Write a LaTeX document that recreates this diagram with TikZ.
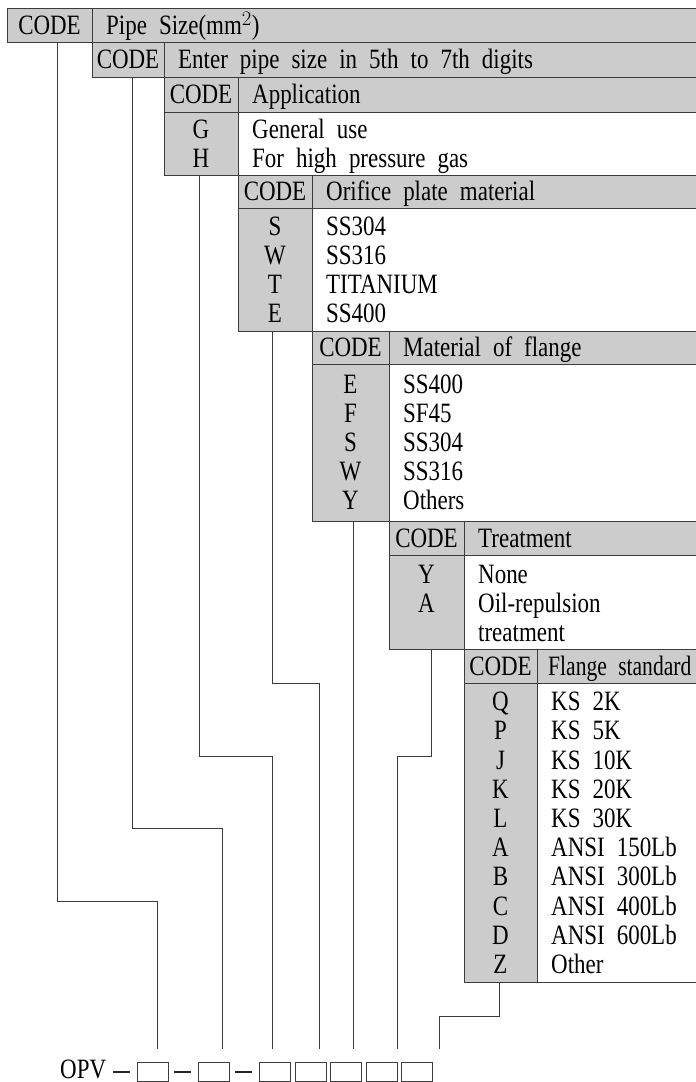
\documentclass[tikz,border=0pt]{standalone}
\usepackage{fontspec}
\setmainfont{Liberation Serif}[FakeStretch=0.82,WordSpace=2.1]
\usepackage{tikz}
\usetikzlibrary{positioning}

\definecolor{cellgray}{HTML}{CCCCCC}
\definecolor{linegray}{HTML}{3C3C3C}

\begin{document}
\begin{tikzpicture}[x=1pt, y=-1pt, font=\fontsize{28}{29}\selectfont,
  frame/.style={draw=linegray, line width=0.9pt},
  wire/.style={draw=linegray, line width=0.9pt},
  codetxt/.style={inner sep=0pt, text height=18.3pt, text depth=0pt, anchor=center},
  itemtxt/.style={inner sep=0pt, text height=18.3pt, text depth=0pt, anchor=west},
  slot/.style={draw=linegray, line width=1pt, minimum width=31pt, minimum height=19pt,
    inner sep=0pt, anchor=north west},
  dashline/.style={draw=black!85, line width=1.3pt}]

\useasboundingbox (0,0) rectangle (696,1082);
\clip (0,0) rectangle (696,1082);

% ── CODE BLOCKS: left / divider / top / header bottom / bottom ──────────

\foreach \xl/\xd/\yt/\yh/\yb [count=\i] in {7/92/8/42/42, 92/164/42/77/77,
    164/238/77/112/175, 238/312/175/208/331, 312/389/331/364/521,
    389/464/521/555/649, 464/537/649/683/982} {
  \fill[cellgray] (\xl,\yt) rectangle (700,\yh);
  \fill[cellgray] (\xl,\yh) rectangle (\xd,\yb);
  \draw[frame] (700,\yt) -- (\xl,\yt) -- (\xl,\yb) -- (700,\yb);
  \draw[frame] (\xl,\yh) -- (700,\yh);
  \draw[frame] (\xd,\yt) -- (\xd,\yb);
  \node[codetxt] (code\i) at ({(\xl+\xd)/2}, {(\yt+\yh)/2}) {CODE};
  \coordinate (txt\i) at (\xd+14, {(\yt+\yh)/2});
}

% Header titles
\node[itemtxt] (title1) at (txt1) {Pipe Size(mm$^2$)};
\node[itemtxt] (title2) at (txt2) {Enter pipe size in 5th to 7th digits};
\node[itemtxt] (title3) at (txt3) {Application};
\node[itemtxt] (title4) at (txt4) {Orifice plate material};
\node[itemtxt] (title5) at (txt5) {Material of flange};
\node[itemtxt] (title6) at (txt6) {Treatment};
\node[itemtxt] (title7) at ([xshift=-3pt]txt7) {\scalebox{0.94}[1]{Flange standard}};

% Application rows
\foreach \c/\t [count=\r] in {G/General use, H/For high pressure gas} {
  \node[codetxt] (app\r) at (201, 129+29*\r-29) {\c};
  \node[itemtxt] (appt\r) at (252, 129+29*\r-29) {\t};
}

% Orifice plate material rows
\foreach \c/\t [count=\r] in {S/SS304, W/SS316, T/TITANIUM, E/SS400} {
  \node[codetxt] (ori\r) at (275, 226+29*\r-29) {\c};
  \node[itemtxt] (orit\r) at (326, 226+29*\r-29) {\t};
}

% Material of flange rows
\foreach \c/\t [count=\r] in {E/SS400, F/SF45, S/SS304, W/SS316, Y/Others} {
  \node[codetxt] (mat\r) at (350.5, 384.5+29*\r-29) {\c};
  \node[itemtxt] (matt\r) at (403, 384.5+29*\r-29) {\t};
}

% Treatment rows (second text runs over two lines)
\node[codetxt] (trt1) at (426.5, 574) {Y};
\node[codetxt] (trt2) at (426.5, 603) {A};
\node[itemtxt] (trtt1) at (478, 574) {None};
\node[itemtxt] (trtt2) at (478, 603) {Oil-repulsion};
\node[itemtxt] (trtt3) at (478, 632) {treatment};

% Flange standard rows
\foreach \c/\t [count=\r] in {Q/KS 2K, P/KS 5K, J/KS 10K, K/KS 20K, L/KS 30K,
    A/ANSI 150Lb, B/ANSI 300Lb, C/ANSI 400Lb, D/ANSI 600Lb, Z/Other} {
  \node[codetxt] (std\r) at (500.5, 701.5+29.2*\r-29.2) {\c};
  \node[itemtxt] (stdt\r) at (551, 701.5+29.2*\r-29.2) {\t};
}

% ── MODEL NUMBER ────────────────────────────────────────────

\node[inner sep=0pt, anchor=base west] (opv) at (60,1078) {OPV};
\foreach \xb [count=\i] in {137, 198, 259, 294.5, 330, 365.5, 401}
  \node[slot] (box\i) at (\xb,1062) {};
\foreach \i in {1,2,3}
  \draw[dashline] ([xshift=-24pt]box\i.west) -- ([xshift=-7pt]box\i.west);

% ── CONNECTORS: start x / start y / bend y / end x ───────────

\foreach \xs/\ys/\yk/\xe [count=\i] in {57/42/901/157, 132/77/828/222,
    199/175/756/272, 272/331/683/319, 353/521/521/353,
    431/649/756/397, 499/982/1016/439} {
  \coordinate (s\i) at (\xs,\ys);
  \coordinate (e\i) at (\xe,1049);
  \draw[wire] (s\i) |- (\xe,\yk) -- (e\i);
}

\end{tikzpicture}
\end{document}
